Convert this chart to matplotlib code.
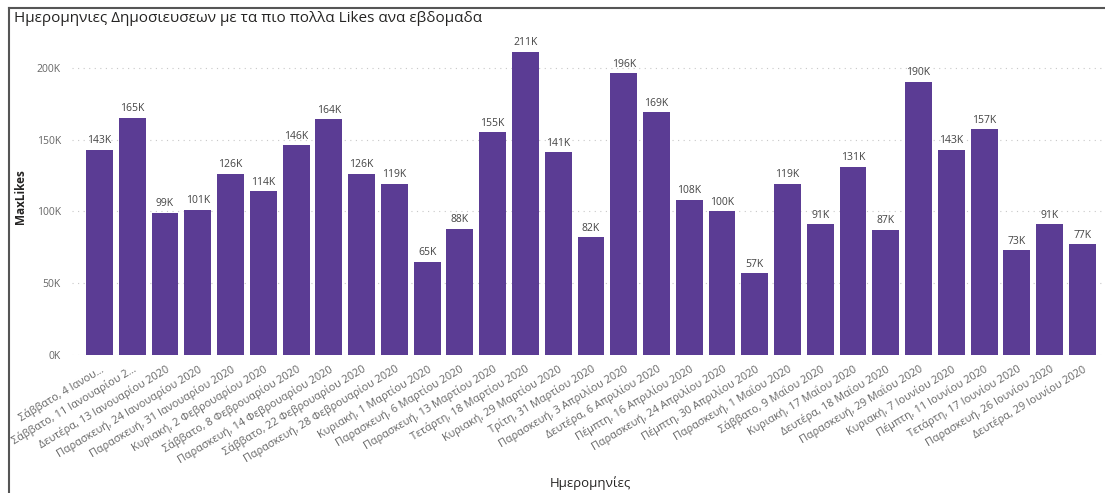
import matplotlib
matplotlib.use("Agg")
import matplotlib.pyplot as plt
from matplotlib.lines import Line2D
from matplotlib.ticker import FuncFormatter

# Ημερομηνίες και μέγιστα likes ανά εβδομάδα
dates = [
    "Σάββατο, 4 Ιανου...",
    "Σάββατο, 11 Ιανουαρίου 2...",
    "Δευτέρα, 13 Ιανουαρίου 2020",
    "Παρασκευή, 24 Ιανουαρίου 2020",
    "Παρασκευή, 31 Ιανουαρίου 2020",
    "Κυριακή, 2 Φεβρουαρίου 2020",
    "Σάββατο, 8 Φεβρουαρίου 2020",
    "Παρασκευή, 14 Φεβρουαρίου 2020",
    "Σάββατο, 22 Φεβρουαρίου 2020",
    "Παρασκευή, 28 Φεβρουαρίου 2020",
    "Κυριακή, 1 Μαρτίου 2020",
    "Παρασκευή, 6 Μαρτίου 2020",
    "Παρασκευή, 13 Μαρτίου 2020",
    "Τετάρτη, 18 Μαρτίου 2020",
    "Κυριακή, 29 Μαρτίου 2020",
    "Τρίτη, 31 Μαρτίου 2020",
    "Παρασκευή, 3 Απριλίου 2020",
    "Δευτέρα, 6 Απριλίου 2020",
    "Πέμπτη, 16 Απριλίου 2020",
    "Παρασκευή, 24 Απριλίου 2020",
    "Πέμπτη, 30 Απριλίου 2020",
    "Παρασκευή, 1 Μαΐου 2020",
    "Σάββατο, 9 Μαΐου 2020",
    "Κυριακή, 17 Μαΐου 2020",
    "Δευτέρα, 18 Μαΐου 2020",
    "Παρασκευή, 29 Μαΐου 2020",
    "Κυριακή, 7 Ιουνίου 2020",
    "Πέμπτη, 11 Ιουνίου 2020",
    "Τετάρτη, 17 Ιουνίου 2020",
    "Παρασκευή, 26 Ιουνίου 2020",
    "Δευτέρα, 29 Ιουνίου 2020",
]
max_likes = [143, 165, 99, 101, 126, 114, 146, 164, 126, 119, 65, 88, 155, 211, 141,
             82, 196, 169, 108, 100, 57, 119, 91, 131, 87, 190, 143, 157, 73, 91, 77]
max_likes = [v * 1000 for v in max_likes]
y_ticks = [0, 50000, 100000, 150000, 200000]

plt.rcParams['font.family'] = ['Open Sans', 'DejaVu Sans']

W, H = 1105, 493
fig = plt.figure(figsize=(W / 100, H / 100), dpi=100)
ax = fig.add_axes([72 / W, 1 - 355 / H, (1103 - 72) / W, (355 - 39) / H])

x = list(range(len(dates)))
bars = ax.bar(x, max_likes, width=0.82, color='#5B3C94', zorder=2)

for xi, v in zip(x, max_likes):
    ax.text(xi, v + 2500, f"{round(v / 1000)}K", ha='center', va='bottom',
            fontsize=7.5, color='#444444')

ax.set_xlim(-0.84, 30.63)
ax.set_ylim(0, 220000)
ax.set_yticks(y_ticks)
ax.yaxis.set_major_formatter(FuncFormatter(lambda v, p: f"{int(v / 1000)}K"))
ax.grid(axis='y', linestyle=(0, (1, 4)), color='#c8c8c8', linewidth=0.8, zorder=0)

ax.set_xticks(x)
ax.set_xticklabels(dates, rotation=31, ha='right', rotation_mode='anchor',
                   fontsize=7.8, color='#666666')
ax.tick_params(axis='x', length=0, pad=6)
ax.tick_params(axis='y', length=0, pad=8, labelsize=7.5, labelcolor='#666666')
for s in ax.spines.values():
    s.set_visible(False)

ax.set_ylabel("MaxLikes", fontsize=8.5, fontweight='bold', color='#252423', labelpad=7)
fig.text(590 / W, 1 - 483 / H, "Ημερομηνίες", ha='center', va='center',
         fontsize=9.5, color='#252423')
fig.text(14 / W, 1 - 19 / H, "Ημερομηνιες Δημοσιευσεων με τα πιο πολλα Likes ανα εβδομαδα",
         ha='left', va='center', fontsize=11, color='#252423')

# πλαίσιο
fig.add_artist(Line2D([9 / W, 9 / W], [0, 1 - 8 / H], color='#555555', linewidth=1.5,
                      transform=fig.transFigure))
fig.add_artist(Line2D([9 / W, 1], [1 - 8 / H, 1 - 8 / H], color='#555555', linewidth=1.5,
                      transform=fig.transFigure))

fig.savefig("out.png", dpi=100)
